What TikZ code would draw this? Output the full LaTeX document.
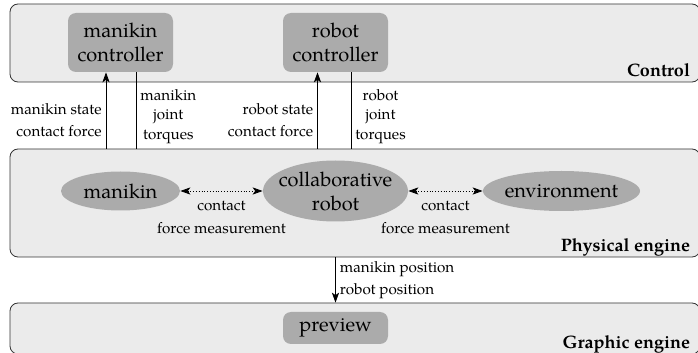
\documentclass[tikz,border=0pt]{standalone}
\usepackage{fontspec}
\setmainfont{texgyrepagella}[Extension=.otf, UprightFont=*-regular, BoldFont=*-bold, ItalicFont=*-italic, BoldItalicFont=*-bolditalic]
\usetikzlibrary{positioning,shapes.geometric,arrows.meta}

\begin{document}
\begin{tikzpicture}[x=0.5pt,y=-0.5pt,
    >={Stealth[length=5pt,width=3.6pt,inset=1.3pt]},
    layer/.style={draw=black!80, fill=black!8, rounded corners=4pt, minimum width=345pt, inner sep=0pt},
    unit/.style={fill=black!33, rounded corners=4pt, align=center, inner sep=0pt, minimum width=52.5pt},
    blob/.style={ellipse, fill=black!33, inner sep=0pt, label={[align=center]center:#1}},
    note/.style={font=\fontsize{7.6}{9.6}\selectfont, inner sep=2pt},
    layername/.style={font=\small\bfseries, anchor=base east, inner sep=0pt}]
  \useasboundingbox (0,0) rectangle (698,353);
  % layers
  \node[layer, minimum height=39pt] (control) at (355,43) {};
  \node[layer, minimum height=54pt] (physical) at (355,203) {};
  \node[layer, minimum height=25.5pt] (graphic) at (355,328.5) {};
  \node[layername] at ([xshift=-5pt,yshift=3pt]control.south east) {Control};
  \node[layername] at ([xshift=-5pt,yshift=3pt]physical.south east) {Physical engine};
  \node[layername] at ([xshift=-5pt,yshift=3pt]graphic.south east) {Graphic engine};
  % controllers
  \node[unit, minimum height=29.5pt] (manctrl) at (120.5,42.5) {manikin\\controller};
  \node[unit, minimum height=29.5pt] (robctrl) at (335.5,42.5) {robot\\controller};
  % bodies
  \node[blob=manikin, minimum width=59.5pt, minimum height=19.5pt] (manikin) at (120.5,191) {};
  \node[blob={collaborative\\robot}, minimum width=72.5pt, minimum height=30.5pt] (robot) at (335.5,191) {};
  \node[blob=environment, minimum width=78.5pt, minimum height=20pt] (env) at (561.5,191) {};
  \node[unit, minimum height=16pt] (preview) at (335.5,328) {preview};
  % control <-> physics
  \coordinate (manup) at ([xshift=-7.25pt]manctrl.south);
  \coordinate (mandown) at ([xshift=7.75pt]manctrl.south);
  \coordinate (robup) at ([xshift=-9pt]robctrl.south);
  \coordinate (robdown) at ([xshift=7.75pt]robctrl.south);
  \draw[->] (manup |- physical.north) -- (manup)
    node[note, pos=0.37, left, align=right] {manikin state\\[1.5pt]contact force};
  \draw (mandown) -- (mandown |- physical.north)
    node[note, pos=0.58, right, align=center] {manikin\\joint\\torques};
  \draw[->] (robup |- physical.north) -- (robup)
    node[note, pos=0.37, left, align=right] {robot state\\[1.5pt]contact force};
  \draw (robdown) -- (robdown |- physical.north)
    node[note, pos=0.58, right, align=center] {robot\\joint\\torques};
  % contacts
  \draw[<->, densely dotted] (manikin) -- (robot)
    node[note, midway, below=3pt, align=center] {contact\\[1.5pt]force measurement};
  \draw[<->, densely dotted] (robot) -- (env)
    node[note, midway, below=3pt, align=center] {contact\\[1.5pt]force measurement};
  % physics -> graphics
  \draw[->] (physical.south -| preview) -- (graphic.north -| preview)
    node[note, midway, right, align=left] {manikin position\\[1.5pt]robot position};
\end{tikzpicture}
\end{document}
